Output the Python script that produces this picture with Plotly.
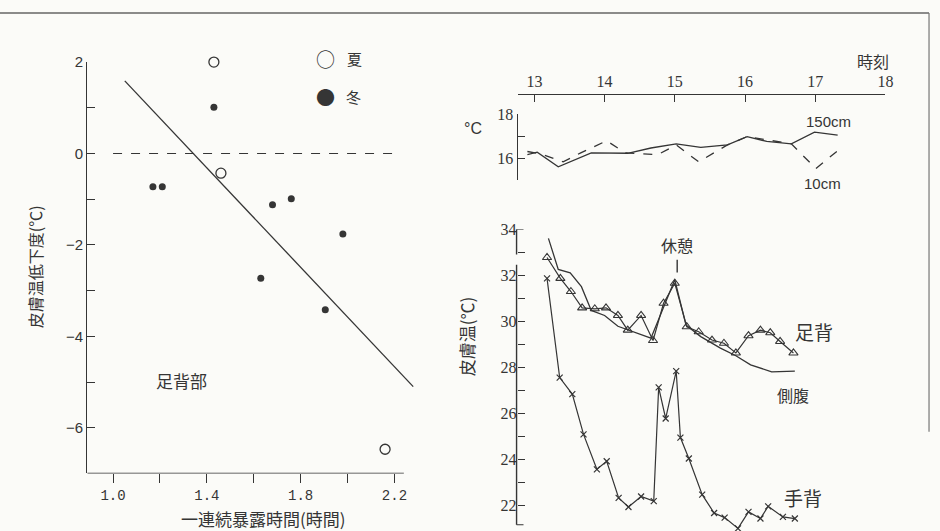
import plotly.graph_objects as go

W, H = 940, 531
INK = "#353535"
CJK = "Noto Sans CJK JP"
SERIF = "Liberation Serif"

# ---------------- left panel data ----------------
summer_x = [1.43, 1.46, 2.16]
summer_y = [2.0, -0.43, -6.47]
winter_x = [1.43, 1.17, 1.21, 1.68, 1.76, 1.98, 1.63, 1.905]
winter_y = [1.01, -0.73, -0.73, -1.12, -0.99, -1.76, -2.73, -3.42]
reg_x = [1.05, 2.28]
reg_y = [1.59, -5.10]
zero_x = [1.0, 2.21]
zero_y = [0, 0]
left_xticks = [1.0, 1.2, 1.4, 1.6, 1.8, 2.0, 2.2]
left_xtext = ["1.0", "", "1.4", "", "1.8", "", "2.2"]
left_yticks = [-6, -5, -4, -3, -2, -1, 0, 1, 2]
left_ytext = ["−6", "", "−4", "", "−2", "", "0", "", "2"]

# ---------------- right top (air temperature) ----------------
t150 = [12.90, 13.04, 13.34, 13.81, 14.33, 14.66, 15.02, 15.37, 15.75, 16.03, 16.31, 16.66, 16.99, 17.32]
v150 = [16.16, 16.27, 15.60, 16.24, 16.22, 16.46, 16.65, 16.49, 16.60, 16.98, 16.76, 16.65, 17.18, 17.05]
t10 = [12.90, 13.08, 13.41, 13.66, 14.03, 14.29, 14.76, 15.02, 15.34, 15.75, 16.03, 16.66, 17.01, 17.37]
v10 = [16.30, 16.20, 15.83, 16.24, 16.79, 16.24, 16.16, 16.60, 15.83, 16.60, 16.98, 16.65, 15.52, 16.47]
time_ticks = [13, 14, 15, 16, 17, 18]
air_yticks = [15, 16, 17, 18]
air_ytext = ["", "16", "", "18"]

# ---------------- right bottom (skin temperature) ----------------
foot_t = [13.18, 13.37, 13.52, 13.68, 13.86, 14.02, 14.19, 14.33, 14.52, 14.69, 14.84, 15.00,
          15.17, 15.34, 15.53, 15.70, 15.87, 16.05, 16.22, 16.36, 16.50, 16.69]
foot_v = [32.77, 31.86, 31.29, 30.58, 30.54, 30.58, 30.25, 29.61, 30.25, 29.16, 30.78, 31.65,
          29.76, 29.54, 29.18, 29.04, 28.62, 29.37, 29.61, 29.50, 29.12, 28.62]
side_t = [13.20, 13.34, 13.51, 13.67, 13.81, 14.00, 14.19, 14.47, 14.66, 15.00, 15.16, 15.37,
          15.65, 15.87, 16.08, 16.38, 16.71]
side_v = [33.60, 32.25, 32.10, 31.50, 30.47, 30.25, 29.78, 29.47, 29.26, 31.80, 29.83, 29.33,
          28.83, 28.50, 28.10, 27.80, 27.83]
hand_t = [13.18, 13.36, 13.54, 13.70, 13.89, 14.03, 14.20, 14.34, 14.52, 14.70, 14.77, 14.87,
          15.02, 15.08, 15.20, 15.39, 15.56, 15.71, 15.90, 16.05, 16.22, 16.33, 16.54, 16.71]
hand_v = [31.86, 27.55, 26.83, 25.08, 23.56, 23.91, 22.32, 21.92, 22.38, 22.18, 27.12, 25.77,
          27.83, 24.94, 24.03, 22.46, 21.66, 21.46, 20.99, 21.71, 21.42, 21.95, 21.49, 21.42]
skin_yticks = list(range(22, 35))
skin_ytext = [str(v) if v % 2 == 0 else "" for v in skin_yticks]


def px(x):
    return x / W


def py(y):
    return 1 - y / H


fig = go.Figure()

# left panel
fig.add_trace(go.Scatter(x=zero_x, y=zero_y, mode="lines", xaxis="x", yaxis="y",
                         line=dict(color=INK, width=1.2, dash="dash"), hoverinfo="skip"))
fig.add_trace(go.Scatter(x=reg_x, y=reg_y, mode="lines", xaxis="x", yaxis="y",
                         line=dict(color=INK, width=1.3), hoverinfo="skip"))
fig.add_trace(go.Scatter(x=summer_x, y=summer_y, mode="markers", xaxis="x", yaxis="y", name="夏",
                         marker=dict(symbol="circle-open", size=10, color=INK, line=dict(width=1.3)),
                         cliponaxis=False))
fig.add_trace(go.Scatter(x=winter_x, y=winter_y, mode="markers", xaxis="x", yaxis="y", name="冬",
                         marker=dict(symbol="circle", size=7, color=INK), cliponaxis=False))

# right top
fig.add_trace(go.Scatter(x=t150, y=v150, mode="lines", xaxis="x2", yaxis="y2", name="150cm",
                         line=dict(color=INK, width=1.3)))
fig.add_trace(go.Scatter(x=t10, y=v10, mode="lines", xaxis="x2", yaxis="y2", name="10cm",
                         line=dict(color=INK, width=1.3, dash="dash")))

# right bottom
fig.add_trace(go.Scatter(x=side_t, y=side_v, mode="lines", xaxis="x3", yaxis="y3", name="側腹",
                         line=dict(color=INK, width=1.3)))
fig.add_trace(go.Scatter(x=foot_t, y=foot_v, mode="lines+markers", xaxis="x3", yaxis="y3", name="足背",
                         line=dict(color=INK, width=1.2),
                         marker=dict(symbol="triangle-up-open", size=8, color=INK, line=dict(width=1.1))))
fig.add_trace(go.Scatter(x=hand_t, y=hand_v, mode="lines+markers", xaxis="x3", yaxis="y3", name="手背",
                         line=dict(color=INK, width=1.2),
                         marker=dict(symbol="x-thin-open", size=6, color=INK, line=dict(width=1.2)),
                         cliponaxis=False))

tick_font_l = dict(family="Liberation Mono", size=14, color=INK)
tick_font_r = dict(family=SERIF, size=16, color=INK)

x_dom_r = [px(522.7), px(893)]

fig.update_layout(
    width=W, height=H, margin=dict(l=0, r=0, t=0, b=0),
    paper_bgcolor="#fbfbf8", plot_bgcolor="rgba(0,0,0,0)", showlegend=False,
    xaxis=dict(domain=[px(88), px(421.5)], range=[0.89, 2.30], anchor="y",
               showline=False, showgrid=False, zeroline=False,
               tickmode="array", tickvals=left_xticks, ticktext=left_xtext,
               ticks="outside", ticklen=9, tickwidth=1.2, tickcolor=INK, tickfont=tick_font_l),
    yaxis=dict(domain=[py(472.5), py(54)], range=[-7, 2], anchor="x",
               showline=True, linecolor=INK, linewidth=1.4, showgrid=False, zeroline=False,
               tickmode="array", tickvals=left_yticks, ticktext=left_ytext,
               ticks="inside", ticklen=8, tickwidth=1.2, tickcolor=INK,
               tickfont=dict(family="Liberation Sans", size=15, color=INK)),
    xaxis2=dict(domain=x_dom_r, range=[12.77, 18], anchor="free", position=py(86), side="top",
                showline=True, linecolor=INK, linewidth=1.4, showgrid=False, zeroline=False,
                tickmode="array", tickvals=time_ticks,
                ticks="inside", ticklen=7, tickwidth=1.2, tickcolor=INK, tickfont=tick_font_r),
    yaxis2=dict(domain=[py(174), py(107)], range=[15, 18], anchor="free", position=px(521),
                showline=True, linecolor=INK, linewidth=1.4, showgrid=False, zeroline=False,
                tickmode="array", tickvals=air_yticks, ticktext=air_ytext,
                ticks="inside", ticklen=7, tickwidth=1.2, tickcolor=INK, tickfont=tick_font_r),
    xaxis3=dict(domain=x_dom_r, range=[12.77, 18], anchor="y3", visible=False),
    yaxis3=dict(domain=[py(530.5), py(224)], range=[20.9, 34], anchor="free", position=px(521),
                showline=False, showgrid=False, zeroline=False,
                tickmode="array", tickvals=skin_yticks, ticktext=skin_ytext,
                ticks="inside", ticklen=7, tickwidth=1.2, tickcolor=INK, tickfont=tick_font_r),
)

shapes = [
    # left x-axis line (shorter than the plotting range)
    dict(type="line", xref="x", yref="y", x0=0.89, x1=2.24, y0=-7, y1=-7,
         line=dict(color=INK, width=1.4)),
    # broken skin-temperature axis
    dict(type="line", xref="paper", yref="y3", x0=px(521), x1=px(521), y0=32.9, y1=34,
         line=dict(color=INK, width=1.4)),
    dict(type="line", xref="paper", yref="y3", x0=px(521), x1=px(521), y0=21.15, y1=32.45,
         line=dict(color=INK, width=1.4)),
    dict(type="line", xref="paper", yref="y3", x0=px(521), x1=px(528), y0=21.15, y1=21.15,
         line=dict(color=INK, width=1.2)),
    dict(type="line", xref="paper", yref="y3", x0=px(521), x1=px(528), y0=34, y1=34,
         line=dict(color=INK, width=1.2)),
    # rest marker
    dict(type="line", xref="paper", yref="paper", x0=px(683), x1=px(683), y0=py(255), y1=py(268),
         line=dict(color=INK, width=1.4)),
    # page borders from the scan
    dict(type="line", xref="paper", yref="paper", x0=0, x1=px(937), y0=py(4), y1=py(4),
         line=dict(color="#666", width=1.5)),
    dict(type="line", xref="paper", yref="paper", x0=px(937), x1=px(937), y0=py(4), y1=py(430),
         line=dict(color="#777", width=1.2)),
]
fig.update_layout(shapes=shapes)


def ann(text, x, y, size=16, family=CJK, angle=0):
    return dict(text=text, x=px(x), y=py(y), xref="paper", yref="paper", showarrow=False,
                xanchor="center", yanchor="middle", textangle=angle,
                font=dict(family=family, size=size, color=INK))


annotations = [
    ann("○", 328, 50, size=19),
    ann("夏", 358, 50, size=15),
    ann("●", 328, 89, size=19),
    ann("冬", 357, 89, size=15),
    ann("足背部", 183, 378, size=17),
    ann("皮膚温低下度(℃)", 35, 262, size=16, angle=-90),
    ann("一連続暴露時間(時間)", 266, 518, size=17),
    ann("時刻", 880, 53, size=16),
    ann("°C", 477, 122, size=16, family="Liberation Sans"),
    ann("150cm", 836, 114, size=15, family="Liberation Sans"),
    ann("10cm", 830, 178, size=15, family="Liberation Sans"),
    ann("休憩", 683, 240, size=16),
    ann("足背", 821, 328, size=19),
    ann("側腹", 800, 393, size=16),
    ann("手背", 810, 497, size=19),
    ann("皮膚温(℃)", 470, 333, size=17, angle=-90),
]
fig.update_layout(annotations=annotations)

post = (
    "document.documentElement.style.margin='0';"
    "document.documentElement.style.overflow='hidden';"
    "document.body.style.margin='0';"
    "document.body.style.padding='0';"
    "document.body.style.overflow='hidden';"
    "var d=document.getElementById('{plot_id}');"
    "d.style.position='fixed';d.style.top='0px';d.style.left='0px';"
)
fig.write_html("out.html", config={"displayModeBar": False}, post_script=post)
